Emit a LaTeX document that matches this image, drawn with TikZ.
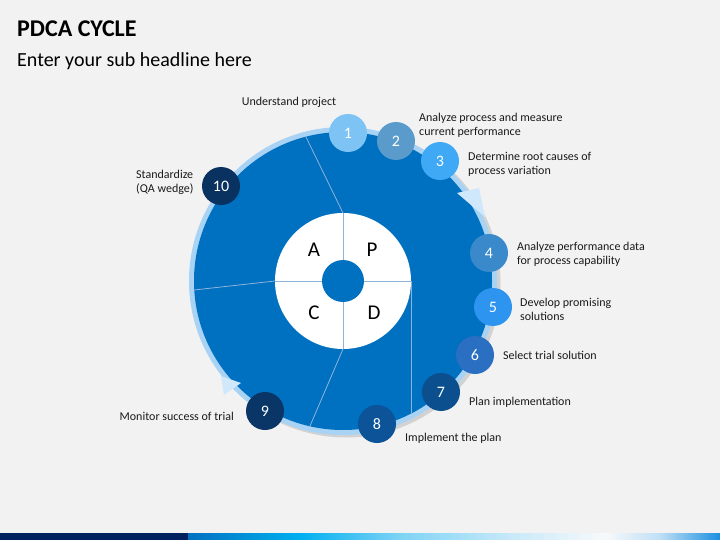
\documentclass[tikz,border=0pt]{standalone}
\usepackage{fontspec}
\setmainfont{Carlito}
\definecolor{bg}{HTML}{F2F2F2}
\definecolor{txt}{HTML}{1A1A1A}
\definecolor{navy}{HTML}{002060}
\definecolor{ringc}{HTML}{A9D3F5}
\definecolor{headc}{HTML}{CFE8FC}
\definecolor{diskc}{HTML}{0070C0}
\definecolor{divline}{HTML}{8DB3DA}
\definecolor{c1}{HTML}{7DC4F5}
\definecolor{c2}{HTML}{5B9BCB}
\definecolor{c3}{HTML}{3FA9F5}
\definecolor{c4}{HTML}{3A89CB}
\definecolor{c5}{HTML}{2D95F0}
\definecolor{c6}{HTML}{2A6FC2}
\definecolor{c7}{HTML}{0B4F8F}
\definecolor{c8}{HTML}{0C5398}
\definecolor{c9}{HTML}{0A3567}
\definecolor{c10}{HTML}{0A3260}
\tikzset{
  num/.style={shape=circle, inner sep=0pt, minimum size=38pt, text=white, font=\fontsize{16}{16}\selectfont},
  lbl/.style={anchor=west, align=left, inner sep=0pt, text=txt, font=\fontsize{12}{14}\selectfont},
  part/.style={inner sep=0pt, text=black, font=\fontsize{21}{21}\selectfont},
  cut/.style={draw=divline, line width=0.8pt}
}
\begin{document}
\begin{tikzpicture}[x=1pt, y=-1pt]
\fill[bg] (0,0) rectangle (720,540);
\useasboundingbox (0,0) rectangle (720,540);
% bottom bar
\fill[navy] (0,533) rectangle (188,540);
\shade[left color=diskc, right color={rgb,255:red,0;green,176;blue,240}] (188,533) rectangle (300.5,540);
\shade[left color={rgb,255:red,0;green,176;blue,240}, right color={rgb,255:red,127;green,211;blue,245}] (300,533) rectangle (400.5,540);
\shade[left color={rgb,255:red,127;green,211;blue,245}, right color={rgb,255:red,205;green,235;blue,249}] (400,533) rectangle (520.5,540);
\shade[left color={rgb,255:red,205;green,235;blue,249}, right color={rgb,255:red,247;green,249;blue,251}] (520,533) rectangle (605.5,540);
\shade[left color={rgb,255:red,247;green,249;blue,251}, right color={rgb,255:red,191;green,223;blue,245}] (605,533) rectangle (660.5,540);
\shade[left color={rgb,255:red,191;green,223;blue,245}, right color={rgb,255:red,26;green,144;blue,223}] (660,533) rectangle (720,540);
% title
\node[anchor=base west, inner sep=0pt, text=black, font=\fontsize{24}{24}\selectfont\bfseries] (title) at (17,37) {PDCA CYCLE};
\node[anchor=base west, inner sep=0pt, text=black, font=\fontsize{20}{20}\selectfont] (sub) at (17,67) {Enter your sub headline here};
% wheel
\coordinate (c) at (343,281);
\fill[black, opacity=0.13] (346,283) circle[radius=154.5];
\fill[ringc] (c) circle[radius=154];
\fill[diskc] (c) circle[radius=149];
\fill[white] (c) circle[radius=68];
\draw[cut] (343,213) -- (306,137);
\draw[cut] (275,281) -- (194,290);
\draw[cut] (343,349) -- (310,426);
\draw[cut] (411,281) -- (411,413);
\draw[cut] (343,213) -- (343,349);
\draw[cut] (275,281) -- (411,281);
\fill[diskc] (c) circle[radius=21];
\node[part] (A) at (314,250) {A};
\node[part] (P) at (372,250) {P};
\node[part] (C) at (314,313) {C};
\node[part] (D) at (374,313) {D};
% arrow heads on the ring
\fill[headc] (457,193) -- (479,188) -- (485,217) -- cycle;
\fill[headc] (221,376) -- (241,383) -- (224,395) -- cycle;
% steps
\node[num, fill=c1] (1) at (348,133) {1};
\node[num, fill=c2] (2) at (396,141) {2};
\node[num, fill=c3] (3) at (440,161) {3};
\node[num, fill=c4] (4) at (489,253) {4};
\node[num, fill=c5] (5) at (493,307) {5};
\node[num, fill=c6] (6) at (475,355) {6};
\node[num, fill=c7] (7) at (441,392) {7};
\node[num, fill=c8] (8) at (377,424) {8};
\node[num, fill=c9] (9) at (265,411) {9};
\node[num, fill=c10] (10) at (221,186) {10};
% labels
\node[lbl, anchor=center] (l1) at (289,102) {Understand project};
\node[lbl] (l2) at (419,125) {Analyze process and measure\\current performance};
\node[lbl] (l3) at (468,164) {Determine root causes of\\process variation};
\node[lbl] (l4) at (517,254) {Analyze performance data\\for process capability};
\node[lbl] (l5) at (520,309) {Develop promising\\solutions};
\node[lbl] (l6) at (503,355) {Select trial solution};
\node[lbl] (l7) at (469,402) {Plan implementation};
\node[lbl] (l8) at (405,438) {Implement the plan};
\node[lbl, anchor=east, align=right] (l9) at (234,416) {Monitor success of trial};
\node[lbl] (l10) at (136,182) {Standardize\\(QA wedge)};
\end{tikzpicture}
\end{document}
